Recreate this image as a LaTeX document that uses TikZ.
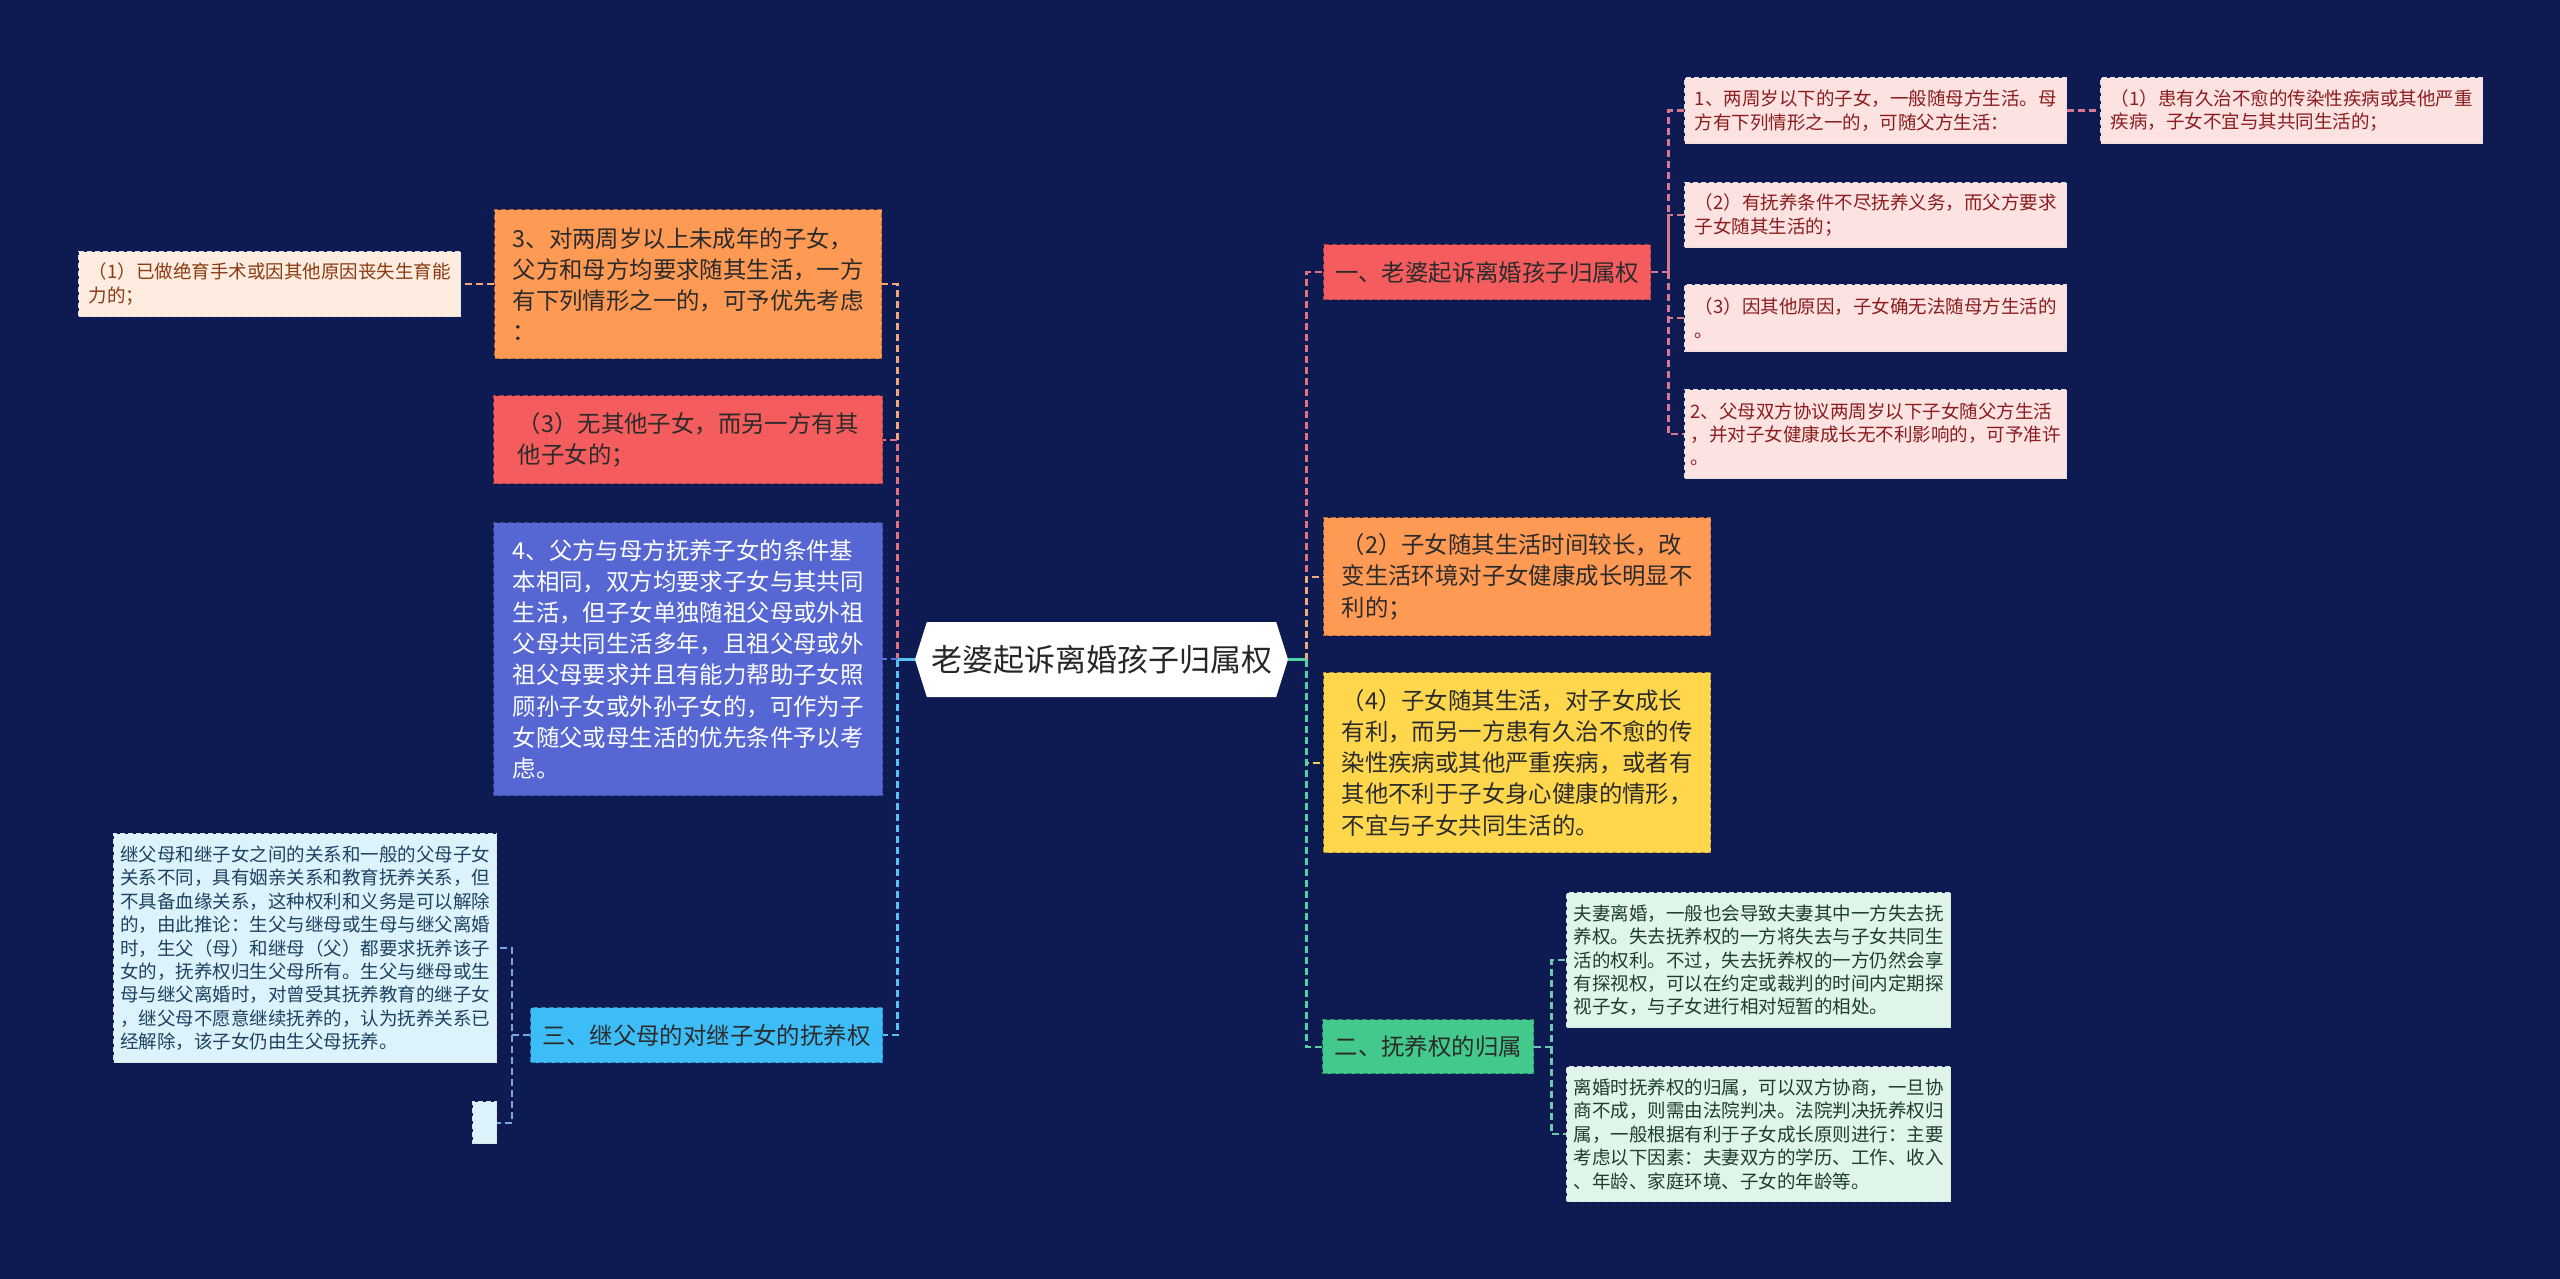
\documentclass[tikz,border=0pt]{standalone}
\usepackage{fontspec}
\setmainfont{Noto Sans CJK SC}
\usepackage{xcolor}
\usetikzlibrary{shapes.symbols}
\definecolor{bgnavy}{HTML}{0D1B52}
\definecolor{forange}{HTML}{FF9A55}
\definecolor{fred}{HTML}{F45C5E}
\definecolor{fblue}{HTML}{5667D3}
\definecolor{fcyan}{HTML}{3DBDF8}
\definecolor{fyellow}{HTML}{FFD74D}
\definecolor{fgreen}{HTML}{43C98B}
\definecolor{fcream}{HTML}{FDECDF}
\definecolor{fpink}{HTML}{FDE2E2}
\definecolor{fsky}{HTML}{DDF3FC}
\definecolor{fmint}{HTML}{DFF5E9}
\definecolor{tbrown}{HTML}{8A3B12}
\definecolor{tmaroon}{HTML}{8B1D1D}
\definecolor{tdark}{HTML}{2B2B2B}
\definecolor{tsteel}{HTML}{1D4262}
\definecolor{tpine}{HTML}{1E3D2D}
\definecolor{lpeach}{HTML}{F2A679}
\definecolor{lrose}{HTML}{E5707E}
\definecolor{lblue}{HTML}{5F6FD6}
\definecolor{lsky}{HTML}{58C2F4}
\definecolor{lgold}{HTML}{F3D05A}
\definecolor{lmint}{HTML}{4FD3A0}
\definecolor{lmauve}{HTML}{D7788F}
\definecolor{lsteel}{HTML}{78A9D6}
\definecolor{lteal}{HTML}{6CC7AE}
\tikzset{
  card/.style     = {rectangle, anchor=north west, inner sep=0pt, align=left,
                     line width=0.7pt, dash pattern=on 2.5pt off 1.5pt},
  maincard/.style = {card, text=tdark, font=\fontsize{11.7}{15.6}\selectfont},
  leafcard/.style = {card, draw=white!75!gray, font=\fontsize{9.25}{11.7}\selectfont},
  rootsig/.style  = {signal, signal to=west and east, signal pointer angle=145,
                     fill=white, inner sep=0pt, text=black!85,
                     font=\fontsize{15.5}{18}\selectfont},
  link/.style     = {line width=1.2pt, dash pattern=on 3.5pt off 2pt},
  stub/.style     = {line width=1.2pt},
}
\begin{document}
\begin{tikzpicture}[x=0.5pt,y=-0.5pt]
\useasboundingbox[fill=bgnavy] (0,0) rectangle (2560,1279);
% centre
\node[rootsig, minimum width=186.5pt, minimum height=37.5pt] (root) at (1101.5,659.5) {老婆起诉离婚孩子归属权};
\coordinate (spL) at ([xshift=-8.5pt]root.west);
\coordinate (spR) at ([xshift=9pt]root.east);

% left branches
\node[maincard, fill=forange, draw=forange!70!black, minimum width=193.5pt, minimum height=74.5pt] (cond3) at (494,209)
  {3、对两周岁以上未成年的子女，\\父方和母方均要求随其生活，一方\\有下列情形之一的，可予优先考虑\\：};
\node[leafcard, fill=fcream, text=tbrown, minimum width=191pt, minimum height=32.5pt] (sterile) at (78,251)
  {（1）已做绝育手术或因其他原因丧失生育能\\力的；};
\node[maincard, fill=fred, draw=fred!70!black, minimum width=194.5pt, minimum height=44pt] (nokid) at (493,395)
  {（3）无其他子女，而另一方有其\\他子女的；};
\node[maincard, fill=fblue, draw=fblue!70!black, text=white, minimum width=194.5pt, minimum height=136.5pt] (cond4) at (493,522)
  {4、父方与母方抚养子女的条件基\\本相同，双方均要求子女与其共同\\生活，但子女单独随祖父母或外祖\\父母共同生活多年，且祖父母或外\\祖父母要求并且有能力帮助子女照\\顾孙子女或外孙子女的，可作为子\\女随父或母生活的优先条件予以考\\虑。};
\node[maincard, fill=fcyan, draw=fcyan!70!black, minimum width=176pt, minimum height=27.5pt] (stepbr) at (530,1007)
  {三、继父母的对继子女的抚养权};
\node[leafcard, fill=fsky, text=tsteel, minimum width=191.5pt, minimum height=114.5pt] (steptext) at (113,833)
  {继父母和继子女之间的关系和一般的父母子女\\关系不同，具有姻亲关系和教育抚养关系，但\\不具备血缘关系，这种权利和义务是可以解除\\的，由此推论：生父与继母或生母与继父离婚\\时，生父（母）和继母（父）都要求抚养该子\\女的，抚养权归生父母所有。生父与继母或生\\母与继父离婚时，对曾受其抚养教育的继子女\\，继父母不愿意继续抚养的，认为抚养关系已\\经解除，该子女仍由生父母抚养。};
\node[leafcard, fill=fsky, minimum width=12pt, minimum height=21pt] (stepempty) at (472,1101) {};

% right branches
\node[maincard, fill=fred, draw=fred!70!black, minimum width=163.5pt, minimum height=27.5pt] (custody) at (1323,244)
  {一、老婆起诉离婚孩子归属权};
\node[leafcard, fill=fpink, text=tmaroon, minimum width=191pt, minimum height=33pt] (under2) at (1684,77)
  {1、两周岁以下的子女，一般随母方生活。母\\方有下列情形之一的，可随父方生活：};
\node[leafcard, fill=fpink, text=tmaroon, minimum width=191pt, minimum height=33pt] (disease) at (2100,77)
  {（1）患有久治不愈的传染性疾病或其他严重\\疾病，子女不宜与其共同生活的；};
\node[leafcard, fill=fpink, text=tmaroon, minimum width=191pt, minimum height=32.5pt] (neglect) at (1684,182)
  {（2）有抚养条件不尽抚养义务，而父方要求\\子女随其生活的；};
\node[leafcard, fill=fpink, text=tmaroon, minimum width=191pt, minimum height=33.5pt] (otherreason) at (1684,284)
  {（3）因其他原因，子女确无法随母方生活的\\。};
\node[leafcard, fill=fpink, text=tmaroon, minimum width=191pt, minimum height=44.5pt] (agree) at (1684,389)
  {2、父母双方协议两周岁以下子女随父方生活\\，并对子女健康成长无不利影响的，可予准许\\。};
\node[maincard, fill=forange, draw=forange!70!black, minimum width=193.5pt, minimum height=59pt] (longlive) at (1323,517)
  {（2）子女随其生活时间较长，改\\变生活环境对子女健康成长明显不\\利的；};
\node[maincard, fill=fyellow, draw=fyellow!70!black, minimum width=193.5pt, minimum height=90pt] (benefit) at (1323,672)
  {（4）子女随其生活，对子女成长\\有利，而另一方患有久治不愈的传\\染性疾病或其他严重疾病，或者有\\其他不利于子女身心健康的情形，\\不宜与子女共同生活的。};
\node[maincard, fill=fgreen, draw=fgreen!70!black, minimum width=105.5pt, minimum height=27pt] (assign) at (1322,1019)
  {二、抚养权的归属};
\node[leafcard, fill=fmint, text=tpine, minimum width=192pt, minimum height=67.5pt] (lose) at (1566,892)
  {夫妻离婚，一般也会导致夫妻其中一方失去抚\\养权。失去抚养权的一方将失去与子女共同生\\活的权利。不过，失去抚养权的一方仍然会享\\有探视权，可以在约定或裁判的时间内定期探\\视子女，与子女进行相对短暂的相处。};
\node[leafcard, fill=fmint, text=tpine, minimum width=192pt, minimum height=67.5pt] (negotiate) at (1566,1066)
  {离婚时抚养权的归属，可以双方协商，一旦协\\商不成，则需由法院判决。法院判决抚养权归\\属，一般根据有利于子女成长原则进行：主要\\考虑以下因素：夫妻双方的学历、工作、收入\\、年龄、家庭环境、子女的年龄等。};

% connectors, left
\draw[link, lpeach] (spL) |- (cond3.east);
\draw[link, lrose] (spL) |- (nokid.east);
\draw[link, lblue] (spL) |- (cond4.east);
\draw[link, lsky] (spL) |- (stepbr.east);
\draw[stub, lsky] (root.west) -- (spL);
\draw[link, lpeach] (cond3.west) -- (sterile.east);
\coordinate (spE) at ([xshift=-9pt]stepbr.west);
\draw[link, lsteel] (stepbr.west) -- (spE) |- (steptext.east);
\draw[link, lsteel] (spE) |- (stepempty.east);

% connectors, right
\draw[link, lrose] (spR) |- (custody.west);
\draw[link, lpeach] (spR) |- (longlive.west);
\draw[link, lgold] (spR) |- (benefit.west);
\draw[link, lmint] (spR) |- (assign.west);
\draw[stub, lmint] (root.east) -- (spR);
\coordinate (spH) at ([xshift=8.5pt]custody.east);
\draw[link, lmauve] (custody.east) -- (spH) |- (under2.west);
\draw[link, lmauve] (spH) |- (neglect.west);
\draw[link, lmauve] (spH) |- (otherreason.west);
\draw[link, lmauve] (spH) |- (agree.west);
\draw[link, lmauve] (under2.east) -- (disease.west);
\coordinate (spP) at ([xshift=8.5pt]assign.east);
\draw[link, lteal] (assign.east) -- (spP) |- (lose.west);
\draw[link, lteal] (spP) |- (negotiate.west);
\end{tikzpicture}
\end{document}
